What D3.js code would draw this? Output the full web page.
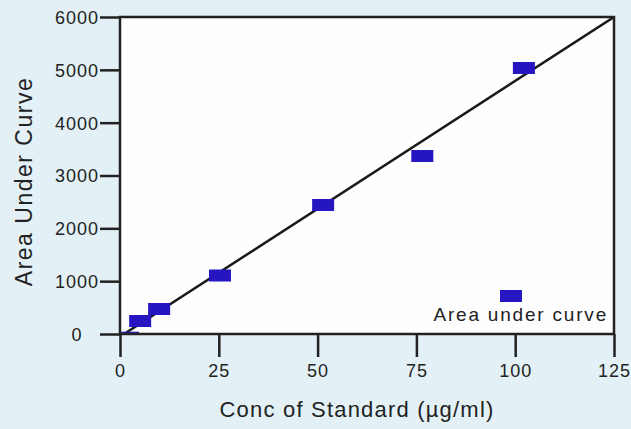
<!DOCTYPE html>
<html>
<head>
<meta charset="utf-8">
<script src="https://cdn.jsdelivr.net/npm/d3@7"></script>
<style>
  html, body { margin: 0; padding: 0; background: #e3f1f6; }
  #chart { width: 631px; height: 429px; }
  text { font-family: "Liberation Sans", Arial, Helvetica, sans-serif; fill: #222; }
</style>
</head>
<body>
<div id="chart"></div>
<script>
// values
const concentrations = [2, 5.1, 9.9, 25.3, 51.4, 76.5, 102.2];
const areas = [-70, 246, 473, 1107, 2442, 3369, 5035];
const fitConc = [0, 125];
const fitArea = [-50, 6000];
const xTicks = [0, 25, 50, 75, 100, 125];
const yTicks = [0, 1000, 2000, 3000, 4000, 5000, 6000];
const xTitle = "Conc of Standard (\u00b5g/ml)";
const yTitle = "Area Under Curve";
const legendLabel = "Area under curve";

class CalibrationChart {
    margin = { top: 17, right: 17, bottom: 95, left: 120 };
    markerW = 22;
    markerH = 12;
    ink = "#222";
    markerFill = "#2517c2";

    constructor(el) {
        this.el = el;
    }

    create(size) {
        this.width = size.width - this.margin.left - this.margin.right;
        this.height = size.height - this.margin.top - this.margin.bottom;

        d3.select(this.el).selectAll("*").remove();

        this.svg = d3.select(this.el).append("svg")
            .attr("width", size.width)
            .attr("height", size.height);

        const defs = this.svg.append("defs");
        defs.append("clipPath").attr("id", "plotClip")
            .append("rect").attr("width", this.width).attr("height", this.height);
        defs.append("filter").attr("id", "soft")
            .attr("x", "-30%").attr("y", "-30%").attr("width", "160%").attr("height", "160%")
            .append("feGaussianBlur").attr("stdDeviation", 0.7);

        this.g = this.svg.append("g")
            .attr("transform", `translate(${this.margin.left},${this.margin.top})`);

        this.xScale = d3.scaleLinear().domain([0, 125]).range([0, this.width]);
        this.yScale = d3.scaleLinear().domain([0, 6000]).range([this.height, 0]);
    }

    render() {
        const { g, xScale, yScale, width, height } = this;

        g.append("rect")
            .attr("width", width).attr("height", height)
            .attr("fill", "#fefefe");

        // axes
        const xAxis = g.append("g").attr("transform", `translate(0,${height})`)
            .call(d3.axisBottom(xScale).tickValues(xTicks).tickSize(23).tickSizeOuter(0));
        xAxis.select(".domain").remove();
        xAxis.selectAll("line").attr("stroke", this.ink).attr("stroke-width", 2.5);
        xAxis.selectAll("text")
            .attr("y", 43).attr("dy", 0)
            .attr("font-size", 18).attr("letter-spacing", 1)
            .attr("fill", this.ink);

        const yAxis = g.append("g")
            .call(d3.axisLeft(yScale).tickValues(yTicks).tickFormat(d3.format("d"))
                .tickSize(20).tickSizeOuter(0));
        yAxis.select(".domain").remove();
        yAxis.selectAll("line").attr("stroke", this.ink).attr("stroke-width", 2.5);
        yAxis.selectAll("text")
            .attr("x", -43).attr("dy", "0.36em")
            .attr("text-anchor", "middle")
            .attr("font-size", 18).attr("letter-spacing", 1)
            .attr("fill", this.ink);

        // data
        const plot = g.append("g").attr("clip-path", "url(#plotClip)");

        plot.append("line")
            .attr("x1", xScale(fitConc[0])).attr("y1", yScale(fitArea[0]))
            .attr("x2", xScale(fitConc[1])).attr("y2", yScale(fitArea[1]))
            .attr("stroke", "#1a1a1a").attr("stroke-width", 2.5);

        const pts = concentrations.map((c, i) => ({ c, a: areas[i] }));
        plot.selectAll(".marker").data(pts).join("rect")
            .attr("class", "marker")
            .attr("x", d => xScale(d.c) - this.markerW / 2)
            .attr("y", d => yScale(d.a) - this.markerH / 2)
            .attr("width", this.markerW).attr("height", this.markerH)
            .attr("fill", this.markerFill)
            .attr("filter", "url(#soft)");

        // frame
        g.append("rect")
            .attr("width", width).attr("height", height)
            .attr("fill", "none").attr("stroke", this.ink).attr("stroke-width", 2.5);

        // legend
        const leg = g.append("g").attr("transform", `translate(${width - 6},${height - 13})`);
        leg.append("rect")
            .attr("x", -108).attr("y", -31)
            .attr("width", this.markerW).attr("height", this.markerH)
            .attr("fill", this.markerFill)
            .attr("filter", "url(#soft)");
        leg.append("text")
            .attr("text-anchor", "end")
            .attr("font-size", 19).attr("letter-spacing", 1.8)
            .text(legendLabel);

        // titles
        g.append("text")
            .attr("x", width / 2 - 10).attr("y", height + 83)
            .attr("text-anchor", "middle")
            .attr("font-size", 22).attr("letter-spacing", 1.2)
            .text(xTitle);

        g.append("text")
            .attr("transform", `translate(${-88},${height / 2 + 6}) rotate(-90)`)
            .attr("text-anchor", "middle")
            .attr("font-size", 23).attr("letter-spacing", 1.5)
            .text(yTitle);
    }
}

const chart = new CalibrationChart(document.getElementById("chart"));
chart.create({ width: 631, height: 429 });
chart.render();
</script>
</body>
</html>
